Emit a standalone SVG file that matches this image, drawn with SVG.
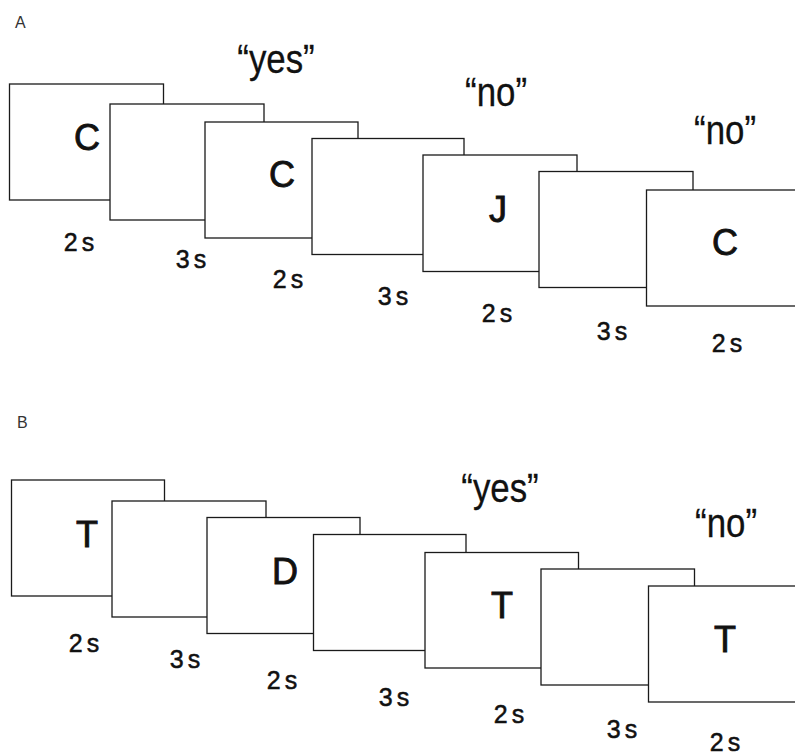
<svg xmlns="http://www.w3.org/2000/svg" width="795" height="755" viewBox="0 0 795 755">
<style>
.fr{fill:#fff;stroke:#1a1a1a;stroke-width:1.3}
.lt{font-family:"Liberation Sans",Arial,sans-serif;font-size:36px;fill:#111;stroke:#111;stroke-width:0.9;text-anchor:middle}
.tm{font-family:"Liberation Sans",Arial,sans-serif;font-size:25px;fill:#111;stroke:#111;stroke-width:0.5;text-anchor:middle;letter-spacing:4px}
.rs{font-family:"Liberation Sans",Arial,sans-serif;font-size:41px;fill:#111;stroke:#111;stroke-width:0.3;text-anchor:middle}
.pl{font-family:"Liberation Sans",Arial,sans-serif;font-size:16px;fill:#333}
</style>
<rect width="795" height="755" fill="#fff"/>
<g id="panelA">
<text class="pl" x="15" y="28">A</text>
<g id="a1"><rect class="fr" x="9.5" y="84" width="154" height="116"/><text class="lt" x="87" y="150">C</text><text class="tm" x="81" y="251">2s</text></g>
<g id="a2"><rect class="fr" x="110" y="104" width="154" height="116"/><text class="tm" x="193" y="268">3s</text></g>
<g id="a3"><rect class="fr" x="205" y="122" width="153" height="116"/><text class="lt" x="282" y="187">C</text><text class="tm" x="290" y="288">2s</text>
<text class="rs" transform="translate(276,73) scale(0.85,1)">“yes”</text></g>
<g id="a4"><rect class="fr" x="312" y="138.5" width="152" height="116"/><text class="tm" x="395" y="305">3s</text></g>
<g id="a5"><rect class="fr" x="423" y="155" width="154" height="116.5"/><text class="lt" x="498" y="222">J</text><text class="tm" x="499" y="322">2s</text>
<text class="rs" transform="translate(496,106) scale(0.85,1)">“no”</text></g>
<g id="a6"><rect class="fr" x="539" y="171.5" width="154" height="116"/><text class="tm" x="614" y="340">3s</text></g>
<g id="a7"><rect class="fr" x="646.5" y="190" width="160" height="116"/><text class="lt" x="725" y="255">C</text><text class="tm" x="729" y="352">2s</text>
<text class="rs" transform="translate(725,144) scale(0.85,1)">“no”</text></g>
</g>
<g id="panelB">
<text class="pl" x="17" y="428">B</text>
<g id="b1"><rect class="fr" x="11.5" y="480" width="153" height="116"/><text class="lt" x="87" y="547">T</text><text class="tm" x="86" y="652">2s</text></g>
<g id="b2"><rect class="fr" x="112" y="501" width="154" height="116"/><text class="tm" x="187" y="668">3s</text></g>
<g id="b3"><rect class="fr" x="207" y="517.5" width="153" height="116"/><text class="lt" x="285" y="584">D</text><text class="tm" x="284" y="689">2s</text></g>
<g id="b4"><rect class="fr" x="313.5" y="534.5" width="152.5" height="116"/><text class="tm" x="396" y="706">3s</text></g>
<g id="b5"><rect class="fr" x="425" y="552.5" width="153.5" height="115.5"/><text class="lt" x="502" y="618">T</text><text class="tm" x="511" y="723">2s</text>
<text class="rs" transform="translate(500,502) scale(0.85,1)">“yes”</text></g>
<g id="b6"><rect class="fr" x="541" y="569" width="153.5" height="116"/><text class="tm" x="624" y="738">3s</text></g>
<g id="b7"><rect class="fr" x="648.5" y="586" width="160" height="116"/><text class="lt" x="725" y="652">T</text><text class="tm" x="727" y="751">2s</text>
<text class="rs" transform="translate(726,537) scale(0.85,1)">“no”</text></g>
</g>
</svg>
